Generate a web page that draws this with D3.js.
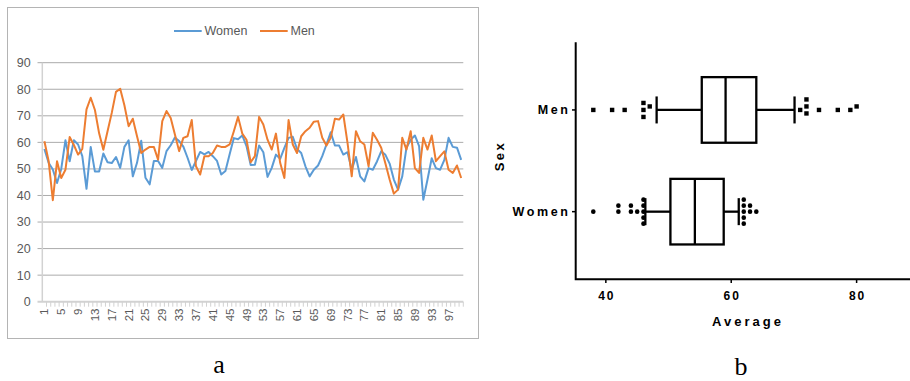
<!DOCTYPE html>
<html>
<head>
<meta charset="utf-8">
<script src="https://cdn.jsdelivr.net/npm/d3@7"></script>
<style>
  body { margin: 0; background: #fff; }
  svg { display: block; }
</style>
</head>
<body>
<svg width="910" height="381"></svg>
<script>
// ---- data: panel a (line chart) ----
const women = [57.5, 52.3, 49.8, 44.7, 50, 60.8, 52.9, 60.8, 59.2, 54.8,
  42.5, 58.3, 49, 49, 55.8, 52.5, 52.2, 54.5, 50.4, 58.3,
  60.8, 47.2, 52.3, 60.6, 46.7, 44.2, 53, 53, 50.4, 56.7,
  58.9, 61.8, 60.5, 58.4, 54.2, 49.6, 53, 56.4, 55.5, 56.4,
  54.8, 53, 47.9, 49.2, 55.5, 61.6, 61.2, 62.6, 58.6, 51.5,
  51.6, 58.8, 56.3, 47, 50.4, 55.4, 53.8, 57.9, 61.7, 62.1,
  57.5, 56, 51, 47.2, 49.7, 51.3, 54.8, 59.2, 63.8, 58.8,
  58.8, 55.4, 56.3, 49.7, 54.5, 47.2, 45.3, 50.3, 49.7, 52.8,
  56.6, 55.3, 52, 46, 42.2, 47.2, 58, 61, 62.6, 58.6,
  38.4, 46, 54, 50.3, 49.7, 53.4, 61.7, 58.3, 58, 53.4];
const men = [60.4, 53, 38.2, 52.9, 46.6, 49.7, 62, 59, 55.4, 57.5,
  72.4, 76.8, 72.2, 63.4, 57.2, 64.2, 71.1, 79, 80.2, 74,
  66.1, 68.9, 62.3, 56, 57.3, 58.3, 58.3, 53.5, 68, 71.8,
  69.2, 63, 56.7, 61.7, 62.3, 68.4, 51, 47.9, 54.8, 54.8,
  56, 58.8, 58.3, 58.3, 59.2, 64.2, 69.6, 63.3, 61, 52.5,
  54.8, 69.6, 66.7, 61, 57.3, 63.3, 52.3, 46.6, 68.4, 59.2,
  56, 62.3, 64.2, 65.5, 67.8, 68, 61.7, 58.8, 61.7, 68.9,
  68.6, 70.5, 59.8, 47.2, 64.2, 60.4, 59.2, 51, 63.6, 61,
  58, 52, 46, 40.7, 42.2, 61.7, 57.3, 64.2, 50.3, 48.5,
  61.7, 57.3, 62.6, 52.9, 54.8, 56.6, 49.7, 48.5, 51.3, 46.6];
const lineIds = d3.range(1, women.length + 1);
const lineYTicks = [0, 10, 20, 30, 40, 50, 60, 70, 80, 90];
const lineSeries = [
  { name: "Women", values: women, color: "#5b9bd5" },
  { name: "Men", values: men, color: "#ed7d31" }
];

// ---- data: panel b (box plot) ----
const boxGroups = ["Men", "Women"];
const boxLow = [48.1, 46.3];
const boxQ1 = [55.3, 50.3];
const boxMedian = [59.1, 54.2];
const boxQ3 = [64, 58.8];
const boxHigh = [70.1, 61.2];
const menOutliers = [38, 41, 43, 46, 46, 46, 47, 71, 72, 72, 72, 74, 77, 79, 80];
const womenOutliers = [38, 42, 42, 44, 44, 45, 46, 46, 46, 46, 46, 62, 62, 62, 62, 62, 63, 63, 64];
const boxXTicks = [40, 60, 80];

const svg = d3.select("svg");
const grey = "#595959";

// ================= panel a =================
svg.append("rect")
  .attr("x", 7.5).attr("y", 7.5)
  .attr("width", 471).attr("height", 331)
  .attr("fill", "#fff").attr("stroke", "#b4b4b4");

const xa = d3.scalePoint().domain(lineIds).range([42.3, 463.3]).padding(0.5);
const ya = d3.scaleLinear().domain([0, 90]).range([301.7, 62.7]);
const stepA = xa.step();

const ga = svg.append("g");

ga.selectAll(".grid")
  .data(lineYTicks.filter(d => d > 0))
  .join("line")
  .attr("x1", 37.5).attr("x2", 463.3)
  .attr("y1", d => ya(d)).attr("y2", d => ya(d))
  .attr("stroke", "#ababab").attr("stroke-width", 1);

// axis lines
ga.append("line")
  .attr("x1", 42.3).attr("x2", 42.3)
  .attr("y1", ya(90)).attr("y2", ya(0))
  .attr("stroke", "#d2d2d2").attr("stroke-width", 1.5);
ga.append("line")
  .attr("x1", 37.5).attr("x2", 463.3)
  .attr("y1", ya(0)).attr("y2", ya(0))
  .attr("stroke", "#d2d2d2").attr("stroke-width", 2);

// category ticks between points
ga.selectAll(".ctick")
  .data(lineIds)
  .join("line")
  .attr("x1", d => xa(d) + stepA / 2).attr("x2", d => xa(d) + stepA / 2)
  .attr("y1", ya(0)).attr("y2", ya(0) + 5)
  .attr("stroke", "#d2d2d2").attr("stroke-width", 1);

ga.selectAll(".ylab")
  .data(lineYTicks)
  .join("text")
  .attr("x", 30.7).attr("y", d => ya(d))
  .attr("dy", "0.35em")
  .attr("text-anchor", "end")
  .attr("font-family", "Liberation Sans, Arial, sans-serif")
  .attr("font-size", 12.5)
  .attr("fill", grey)
  .text(d => d);

ga.selectAll(".xlab")
  .data(lineIds.filter(d => (d - 1) % 4 === 0))
  .join("text")
  .attr("transform", d => `translate(${xa(d)},308.5) rotate(-90)`)
  .attr("dy", "0.35em")
  .attr("text-anchor", "end")
  .attr("font-family", "Liberation Sans, Arial, sans-serif")
  .attr("font-size", 11.5)
  .attr("fill", grey)
  .text(d => d);

const line = d3.line()
  .x((d, i) => xa(lineIds[i]))
  .y(d => ya(d));

ga.selectAll(".series")
  .data(lineSeries)
  .join("path")
  .attr("d", d => line(d.values))
  .attr("fill", "none")
  .attr("stroke", d => d.color)
  .attr("stroke-width", 2)
  .attr("stroke-linejoin", "round");

// legend
const legendX = [174, 260];
const leg = ga.selectAll(".leg")
  .data(lineSeries)
  .join("g")
  .attr("transform", (d, i) => `translate(${legendX[i]},31)`);
leg.append("line")
  .attr("x1", 0).attr("x2", 27.7)
  .attr("stroke", d => d.color).attr("stroke-width", 2);
leg.append("text")
  .attr("x", 30.5).attr("dy", "0.35em")
  .attr("font-family", "Liberation Sans, Arial, sans-serif")
  .attr("font-size", 12.5)
  .attr("fill", grey)
  .text(d => d.name);

svg.append("text")
  .attr("x", 219).attr("y", 373)
  .attr("text-anchor", "middle")
  .attr("font-family", "Liberation Serif, Times New Roman, serif")
  .attr("font-size", 26)
  .text("a");

// ================= panel b =================
const xb = d3.scaleLinear().domain([35, 90]).range([574.5, 919.3]);
const yb = d3.scalePoint().domain(boxGroups).range([42.3, 279.3]).padding(0.665);
const boxH = 65.6, capH = 27;
const boldFont = "Liberation Sans, Arial, sans-serif";

const gb = svg.append("g");

// axes
gb.append("path")
  .attr("d", `M575.7,42.3V279.3H910`)
  .attr("fill", "none").attr("stroke", "#000").attr("stroke-width", 2);

gb.selectAll(".ytick")
  .data(boxGroups)
  .join("line")
  .attr("x1", 572).attr("x2", 575.7)
  .attr("y1", d => yb(d)).attr("y2", d => yb(d))
  .attr("stroke", "#000").attr("stroke-width", 1.5);

gb.selectAll(".xtick")
  .data(boxXTicks)
  .join("line")
  .attr("x1", d => xb(d)).attr("x2", d => xb(d))
  .attr("y1", 279.3).attr("y2", 283)
  .attr("stroke", "#000").attr("stroke-width", 1.5);

gb.selectAll(".ylabel")
  .data(boxGroups)
  .join("text")
  .attr("x", 570.5).attr("y", d => yb(d))
  .attr("dy", "0.35em")
  .attr("text-anchor", "end")
  .attr("font-family", boldFont)
  .attr("font-weight", "bold")
  .attr("font-size", 12.5)
  .attr("letter-spacing", 2.6)
  .text(d => d);

gb.selectAll(".xlabel")
  .data(boxXTicks)
  .join("text")
  .attr("x", d => xb(d) + 1).attr("y", 300)
  .attr("text-anchor", "middle")
  .attr("font-family", boldFont)
  .attr("font-weight", "bold")
  .attr("font-size", 12)
  .attr("letter-spacing", 2)
  .text(d => d);

gb.append("text")
  .attr("x", 748).attr("y", 325.5)
  .attr("text-anchor", "middle")
  .attr("font-family", boldFont)
  .attr("font-weight", "bold")
  .attr("font-size", 13)
  .attr("letter-spacing", 3)
  .text("Average");

gb.append("text")
  .attr("transform", "translate(504,156) rotate(-90)")
  .attr("text-anchor", "middle")
  .attr("font-family", boldFont)
  .attr("font-weight", "bold")
  .attr("font-size", 13)
  .attr("letter-spacing", 2.5)
  .text("Sex");

// boxes
const stats = boxGroups.map((g, i) => ({
  g, lo: boxLow[i], q1: boxQ1[i], med: boxMedian[i], q3: boxQ3[i], hi: boxHigh[i]
}));
const box = gb.selectAll(".box")
  .data(stats)
  .join("g")
  .attr("stroke", "#000").attr("stroke-width", 2.3).attr("fill", "none");

box.append("line")
  .attr("x1", d => xb(d.lo)).attr("x2", d => xb(d.q1))
  .attr("y1", d => yb(d.g)).attr("y2", d => yb(d.g));
box.append("line")
  .attr("x1", d => xb(d.q3)).attr("x2", d => xb(d.hi))
  .attr("y1", d => yb(d.g)).attr("y2", d => yb(d.g));
box.append("line")
  .attr("x1", d => xb(d.lo)).attr("x2", d => xb(d.lo))
  .attr("y1", d => yb(d.g) - capH / 2).attr("y2", d => yb(d.g) + capH / 2);
box.append("line")
  .attr("x1", d => xb(d.hi)).attr("x2", d => xb(d.hi))
  .attr("y1", d => yb(d.g) - capH / 2).attr("y2", d => yb(d.g) + capH / 2);
box.append("rect")
  .attr("x", d => xb(d.q1)).attr("width", d => xb(d.q3) - xb(d.q1))
  .attr("y", d => yb(d.g) - boxH / 2).attr("height", boxH)
  .attr("fill", "#fff");
box.append("line")
  .attr("x1", d => xb(d.med)).attr("x2", d => xb(d.med))
  .attr("y1", d => yb(d.g) - boxH / 2).attr("y2", d => yb(d.g) + boxH / 2);

// simple dodge so tied points stack vertically
function dodge(values, diam) {
  const placed = [];
  values.slice().sort((a, b) => a - b).forEach(v => {
    const x = xb(v);
    let dy = 0;
    for (let k = 0; k < 200; k++) {
      const s = Math.ceil(k / 2) * 0.5 * (k % 2 ? -1 : 1);
      const ok = placed.every(p => (p.x - x) ** 2 + (p.dy - s) ** 2 >= diam * diam - 0.01);
      if (ok) { dy = s; break; }
    }
    placed.push({ v, x, dy });
  });
  return placed;
}

gb.selectAll(".msq")
  .data(dodge(menOutliers, 7))
  .join("rect")
  .attr("x", d => d.x - 2.2).attr("y", d => yb("Men") + d.dy - 2.2)
  .attr("width", 4.4).attr("height", 4.4)
  .attr("fill", "#000");

gb.selectAll(".wdot")
  .data(dodge(womenOutliers, 5.6))
  .join("circle")
  .attr("cx", d => d.x).attr("cy", d => yb("Women") + d.dy)
  .attr("r", 2.3)
  .attr("fill", "#000");

svg.append("text")
  .attr("x", 741).attr("y", 375)
  .attr("text-anchor", "middle")
  .attr("font-family", "Liberation Serif, Times New Roman, serif")
  .attr("font-size", 26)
  .text("b");
</script>
</body>
</html>
